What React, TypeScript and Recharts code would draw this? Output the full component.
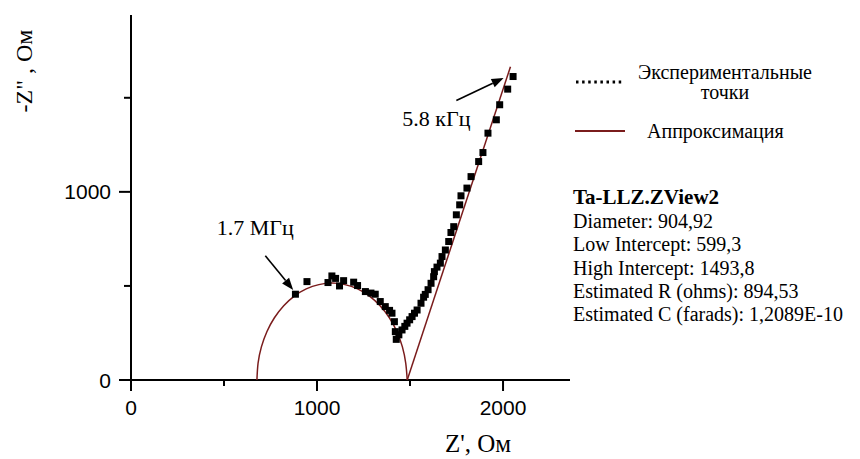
import { Legend, ReferenceLine, Scatter, ScatterChart, XAxis, YAxis } from "recharts";

// Experimental impedance points: Z' and -Z'' (Ohm)
const expZr = [
  884, 946, 1059, 1080, 1100, 1121, 1143, 1197, 1218, 1260, 1290, 1313, 1340, 1367,
  1390, 1403, 1416, 1421, 1426, 1440, 1457, 1472, 1484, 1498, 1511, 1524, 1538, 1559,
  1573, 1582, 1597, 1613, 1627, 1631, 1645, 1663, 1672, 1690, 1708, 1720, 1735, 1749,
  1767, 1774, 1806, 1828, 1869, 1892, 1919, 1964, 1982, 2025, 2054,
];
const expZi = [
  456, 523, 518, 553, 540, 500, 528, 520, 502, 470, 462, 456, 417, 390,
  370, 355, 310, 257, 216, 240, 266, 285, 302, 320, 337, 355, 372, 408,
  440, 455, 480, 514, 549, 576, 600, 621, 656, 691, 736, 784, 815, 878,
  931, 979, 1020, 1081, 1161, 1209, 1312, 1383, 1463, 1546, 1613,
];

// Semicircle of the equivalent-circuit fit
const arcZr = [
  677, 683, 701, 731, 771, 821, 878, 942, 1010, 1080, 1150, 1218, 1282, 1339,
  1389, 1429, 1459, 1477, 1485,
];
const arcZi = [
  0, 89, 176, 258, 331, 395, 446, 484, 507, 515, 507, 484, 446, 395,
  331, 258, 176, 89, 0,
];

// Low-frequency straight tail of the fit
const tailZr = [1485, 2040];
const tailZi = [0, 1665];

const xTicks = [0, 500, 1000, 1500, 2000];
const yTicks = [0, 500, 1000, 1500];

const statsTitle = "Ta-LLZ.ZView2";
const statsLines = [
  "Diameter: 904,92",
  "Low Intercept: 599,3",
  "High Intercept: 1493,8",
  "Estimated R (ohms): 894,53",
  "Estimated C (farads): 1,2089E-10",
];

const expData = expZr.map((x, i) => ({ x, y: expZi[i] }));
const arcData = arcZr.map((x, i) => ({ x, y: arcZi[i] }));
const tailData = tailZr.map((x, i) => ({ x, y: tailZi[i] }));

const FIT = "#7a1c1c";
const SERIF = "'Liberation Serif', 'Times New Roman', serif";
const SANS = "'Liberation Sans', Arial, sans-serif";

function XTick(props: any) {
  const { x, y, payload } = props;
  const major = payload.value % 1000 === 0;
  return (
    <g>
      <line x1={x} y1={y} x2={x} y2={y + (major ? 11 : 6)} stroke="#000" strokeWidth={2} />
      {major && (
        <text x={x} y={y + 35} textAnchor="middle" fontSize={21} fontFamily={SANS} fill="#000">
          {payload.value}
        </text>
      )}
    </g>
  );
}

function YTick(props: any) {
  const { x, y, payload } = props;
  const major = payload.value % 1000 === 0;
  return (
    <g>
      <line x1={x - (major ? 12 : 7)} y1={y} x2={x} y2={y} stroke="#000" strokeWidth={2} />
      {major && (
        <text x={x - 20} y={y + 7.5} textAnchor="end" fontSize={21} fontFamily={SANS} fill="#000">
          {payload.value}
        </text>
      )}
    </g>
  );
}

// arrow with a caption placed relative to its tail
const arrow = (text: string, dx: number, dy: number) => (p: any) => {
  const { x1, y1, x2, y2 } = p;
  const a = Math.atan2(y2 - y1, x2 - x1);
  const len = 12;
  const half = 4.5;
  const bx = x2 - len * Math.cos(a);
  const by = y2 - len * Math.sin(a);
  const nx = -Math.sin(a) * half;
  const ny = Math.cos(a) * half;
  return (
    <g>
      <line x1={x1} y1={y1} x2={bx} y2={by} stroke="#000" strokeWidth={1.6} />
      <polygon points={`${x2},${y2} ${bx + nx},${by + ny} ${bx - nx},${by - ny}`} fill="#000" />
      <text x={x1 + dx} y={y1 + dy} textAnchor="middle" fontSize={22} fontFamily={SERIF} fill="#000">
        {text}
      </text>
    </g>
  );
};

function LegendBox() {
  return (
    <div style={{ fontFamily: SERIF, fontSize: 20, color: "#000" }}>
      <div style={{ display: "flex", alignItems: "center", height: 40 }}>
        <svg width={48} height={6}>
          <line x1={1} y1={3} x2={48} y2={3} stroke="#000" strokeWidth={3} strokeDasharray="2.5 3.6" />
        </svg>
        <div style={{ width: 180, marginLeft: 12, textAlign: "center", lineHeight: "20px" }}>
          Экспериментальные
          <br />
          точки
        </div>
      </div>
      <div style={{ display: "flex", alignItems: "center", height: 20, marginTop: 19 }}>
        <svg width={50} height={4}>
          <line x1={0} y1={2} x2={50} y2={2} stroke={FIT} strokeWidth={2} />
        </svg>
        <div style={{ marginLeft: 22, lineHeight: "20px" }}>Аппроксимация</div>
      </div>
    </div>
  );
}

export default function App() {
  return (
    <div style={{ position: "absolute", left: 0, top: 0, width: 860, height: 459, background: "#fff" }}>
      <ScatterChart width={860} height={459} margin={{ top: 15, right: 290, bottom: 39, left: 0 }}>
        <XAxis
          type="number"
          dataKey="x"
          domain={[0, 2360]}
          ticks={xTicks}
          interval={0}
          tickSize={0}
          tickMargin={0}
          tick={XTick}
          axisLine={{ stroke: "#000", strokeWidth: 2 }}
          height={40}
          label={() => (
            <text x={478} y={452} textAnchor="middle" fontSize={25} fontFamily={SERIF} fill="#000">
              Z', Ом
            </text>
          )}
        />
        <YAxis
          type="number"
          dataKey="y"
          domain={[0, 1940]}
          ticks={yTicks}
          interval={0}
          tickSize={0}
          tickMargin={0}
          tick={YTick}
          axisLine={{ stroke: "#000", strokeWidth: 2 }}
          width={131}
          label={() => (
            <text
              transform="translate(24,71) rotate(-90)"
              textAnchor="middle"
              dominantBaseline="central"
              fontSize={24}
              fontFamily={SERIF}
              fill="#000"
            >
              -Z" , Ом
            </text>
          )}
        />
        <Scatter
          data={arcData}
          shape={() => <g />}
          line={{ stroke: FIT, strokeWidth: 1.5 }}
          lineJointType="natural"
          isAnimationActive={false}
        />
        <Scatter
          data={tailData}
          shape={() => <g />}
          line={{ stroke: FIT, strokeWidth: 1.5 }}
          isAnimationActive={false}
        />
        <Scatter
          data={expData}
          shape={(p: any) => <rect x={p.cx - 3.5} y={p.cy - 3.5} width={7} height={7} fill="#000" />}
          isAnimationActive={false}
        />
        <ReferenceLine
          segment={[{ x: 722, y: 660 }, { x: 872, y: 479 }]}
          shape={arrow("1.7 МГц", -10, -21)}
        />
        <ReferenceLine
          segment={[{ x: 1749, y: 1486 }, { x: 2003, y: 1605 }]}
          shape={arrow("5.8 кГц", -20, 26)}
        />
        <Legend
          layout="vertical"
          align="center"
          verticalAlign="middle"
          wrapperStyle={{ left: 575, top: 62, width: 280 }}
          content={() => <LegendBox />}
        />
      </ScatterChart>
      <div
        style={{
          position: "absolute",
          left: 573,
          top: 184,
          fontFamily: SERIF,
          fontSize: 20,
          color: "#000",
          lineHeight: "23.3px",
          whiteSpace: "nowrap",
        }}
      >
        <div style={{ fontWeight: "bold", fontSize: 21, lineHeight: "26px" }}>{statsTitle}</div>
        {statsLines.map((s) => (
          <div key={s}>{s}</div>
        ))}
      </div>
    </div>
  );
}
